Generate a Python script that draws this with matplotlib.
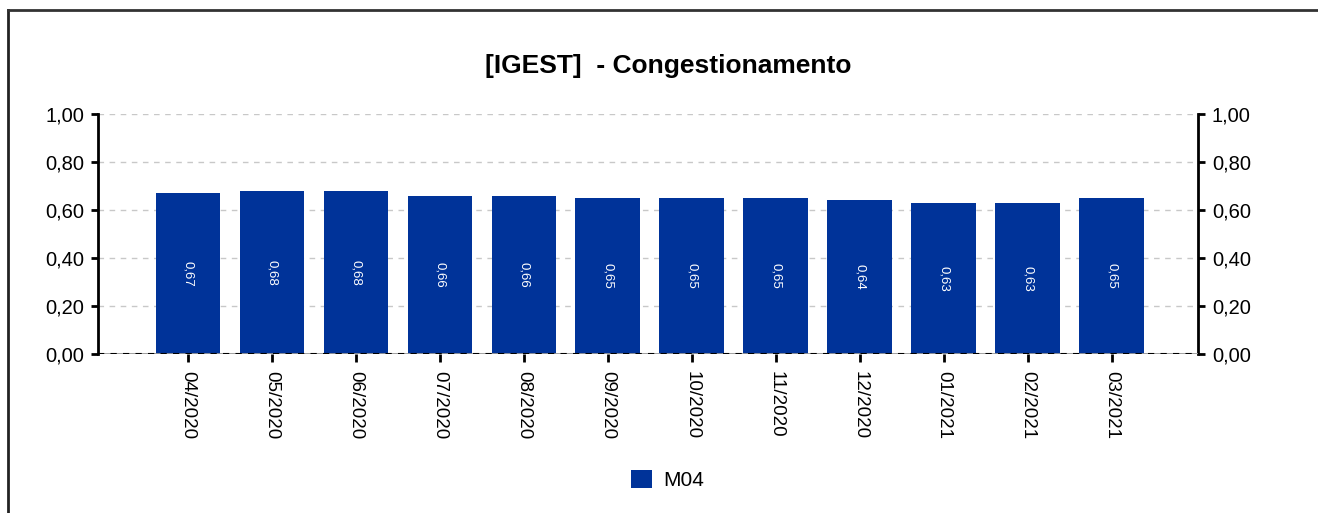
import matplotlib
matplotlib.use("Agg")
import matplotlib.pyplot as plt
from matplotlib.lines import Line2D
from matplotlib.patches import Patch
from matplotlib.ticker import FuncFormatter, MultipleLocator

plt.rcParams['font.family'] = ['Liberation Sans', 'DejaVu Sans']

months = ["04/2020", "05/2020", "06/2020", "07/2020", "08/2020", "09/2020",
          "10/2020", "11/2020", "12/2020", "01/2021", "02/2021", "03/2021"]
m04 = [0.67, 0.68, 0.68, 0.66, 0.66, 0.65, 0.65, 0.65, 0.64, 0.63, 0.63, 0.65]
series_name = "M04"
title = "[IGEST]  - Congestionamento"

bar_color = "#003399"
W, H = 1318, 513
fig = plt.figure(figsize=(W / 100, H / 100), dpi=100)
ax = fig.add_axes([98 / W, 1 - 354 / H, 1100 / W, 240 / H])

x = list(range(len(months)))
bars = ax.bar(x, m04, width=0.77, color=bar_color, zorder=3)

fmt = lambda v: f"{v:.2f}".replace(".", ",")
ax.bar_label(bars, labels=[fmt(v) for v in m04], label_type="center",
             rotation=270, fontsize=9.5, color="white")

ax.set_ylim(0, 1.0)
ax.set_xlim(-1.072, 12.03)
ax.yaxis.set_major_locator(MultipleLocator(0.2))
ax.yaxis.set_major_formatter(FuncFormatter(lambda v, p: fmt(v)))
ax.set_xticks(x)
ax.set_xticklabels(months, rotation=270, fontsize=13.5)

ax.grid(axis="y", color="#c8c8c8", linestyle=(0, (4, 4)), linewidth=1, zorder=0)
ax.axhline(0, color="#999999", linewidth=2, zorder=4)
ax.axhline(0, color="black", linestyle=(0, (3, 3)), linewidth=1.5, zorder=5)

for side in ("top", "bottom"):
    ax.spines[side].set_visible(False)
for side in ("left", "right"):
    ax.spines[side].set_linewidth(2)
    ax.spines[side].set_color("black")

ax.tick_params(axis="y", which="both", left=True, right=True, labelleft=True,
               labelright=True, direction="out", length=5, width=2,
               labelsize=14.5, pad=5)
ax.tick_params(axis="x", direction="out", length=6, width=2, pad=6)

fig.text(668 / W, 1 - 66 / H, title, ha="center", va="center",
         fontsize=19, fontweight="bold")

fig.legend(handles=[Patch(facecolor=bar_color, edgecolor="none", label=series_name)],
           loc="center", bbox_to_anchor=(668 / W, 1 - 480 / H), frameon=False,
           fontsize=15, handlelength=1.0, handleheight=1.0, handletextpad=0.55)

# outer frame along the left and top edges
fig.add_artist(Line2D([8 / W, 8 / W], [0, 1 - 10 / H], transform=fig.transFigure,
                      color="#222222", linewidth=2))
fig.add_artist(Line2D([8 / W, 1], [1 - 10 / H, 1 - 10 / H], transform=fig.transFigure,
                      color="#333333", linewidth=2))

fig.savefig("out.png", dpi=100, facecolor="white")
